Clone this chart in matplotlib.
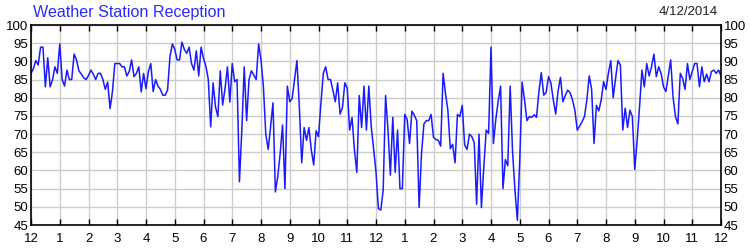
import matplotlib.pyplot as plt
import numpy as np

plt.rcParams['font.family'] = ['Liberation Sans', 'DejaVu Sans']

title = 'Weather Station Reception'
date_label = '4/12/2014'

# signal strength, one reading every 5 minutes (12 per hour), midnight to midnight
am = [
	86.7, 88.0, 90.2, 89.0, 93.9, 93.9, 83.0, 91.0, 83.0, 85.0, 88.5, 86.7,  # 12
	94.8, 85.0, 83.2, 87.6, 85.0, 85.0, 92.0, 90.4, 87.4, 86.5, 85.5, 85.0,  # 1
	86.1, 87.6, 86.5, 85.0, 86.7, 86.7, 85.0, 82.3, 84.3, 77.0, 81.7, 89.4,  # 2
	89.4, 89.4, 88.5, 88.5, 86.0, 87.2, 90.4, 85.8, 86.7, 88.5, 81.6, 86.7,  # 3
	82.5, 87.2, 89.4, 81.7, 85.0, 83.2, 82.3, 80.7, 80.7, 82.1, 91.3, 94.8,  # 4
	93.3, 90.4, 90.4, 95.3, 93.3, 92.2, 93.9, 89.4, 87.6, 92.9, 86.0, 93.9,  # 5
	90.8, 88.7, 85.0, 72.0, 84.1, 77.5, 74.8, 87.4, 78.0, 82.6, 88.5, 78.8,  # 6
	89.4, 84.4, 85.0, 56.9, 71.1, 88.5, 73.7, 85.0, 87.4, 86.2, 85.0, 94.8,  # 7
	90.4, 83.0, 70.0, 65.8, 72.0, 78.6, 54.1, 58.3, 64.7, 72.5, 55.0, 83.2,  # 8
	78.9, 79.8, 85.0, 90.2, 77.5, 62.1, 71.8, 68.3, 71.8, 65.6, 61.5, 70.9,  # 9
	69.3, 78.4, 86.7, 88.5, 85.0, 85.0, 82.1, 78.9, 84.1, 75.5, 77.3, 84.1,  # 10
	82.6, 71.1, 74.6, 65.6, 59.5, 80.6, 71.8, 83.2, 71.1, 83.2, 72.2, 66.0,  # 11
]
pm = [
	59.6, 49.5, 49.1, 54.6, 80.6, 71.1, 58.7, 74.6, 59.5, 71.1, 55.0, 55.0,  # 12
	75.4, 74.0, 67.4, 76.3, 75.2, 73.7, 49.8, 64.7, 72.8, 73.7, 73.7, 75.4,  # 1
	69.1, 68.5, 68.3, 66.7, 86.7, 81.2, 76.6, 66.0, 67.2, 62.1, 75.4, 74.8,  # 2
	77.9, 67.0, 65.8, 70.0, 69.3, 67.6, 50.7, 70.0, 49.8, 61.0, 71.1, 70.2,  # 3
	93.9, 67.4, 74.0, 79.0, 83.2, 55.0, 63.0, 61.3, 83.2, 65.1, 54.6, 46.3,  # 4
	62.8, 84.3, 79.4, 73.7, 74.8, 74.6, 75.3, 74.6, 81.7, 86.9, 80.7, 81.4,  # 5
	85.8, 84.1, 79.4, 75.5, 81.9, 85.6, 78.9, 80.6, 82.1, 81.4, 79.4, 76.6,  # 6
	71.1, 72.2, 73.4, 74.8, 79.4, 86.0, 82.3, 67.4, 77.9, 76.4, 79.4, 84.4,  # 7
	82.3, 86.7, 90.2, 80.0, 85.3, 90.2, 89.0, 71.1, 77.1, 71.8, 76.6, 74.8,  # 8
	60.3, 68.3, 77.5, 87.6, 83.0, 89.4, 86.0, 88.5, 92.0, 85.8, 88.5, 86.7,  # 9
	83.0, 81.7, 86.0, 90.4, 80.1, 74.8, 72.8, 86.7, 85.3, 82.3, 89.4, 85.0,  # 10
	87.2, 89.4, 89.4, 83.0, 88.5, 84.4, 86.5, 84.4, 87.2, 87.6, 86.7, 87.6,  # 11
	86.0,
]
hour_labels = ['12'] + [str(h) for h in range(1, 12)] + ['12'] + [str(h) for h in range(1, 12)] + ['12']

signal = np.array(am + pm)
t_hours = np.arange(len(signal)) * 5 / 60.0

fig = plt.figure(figsize=(7.5, 2.5), dpi=100)
ax = fig.add_axes([31 / 750, 0.1, 690 / 750, 0.8])

ax.plot(t_hours, signal, color='#1a1aff', lw=1.1)

ax.set_xlim(0, 24)
ax.set_ylim(45, 100)
ax.set_xticks(range(25))
ax.set_xticklabels(hour_labels)
ax.set_yticks(range(45, 101, 5))
ax.grid(True, color='#cccccc', lw=1)
ax.set_axisbelow(True)

ax.tick_params(axis='x', direction='in', top=True, bottom=True, length=4,
			   width=1, labelsize=9.5, pad=6, colors='black')
ax.tick_params(axis='y', length=0, labelsize=9.5, pad=2,
			   left=True, right=True, labelleft=True, labelright=True)
for s in ax.spines.values():
	s.set_linewidth(1.2)
	s.set_color('black')

fig.text(33 / 750, 1 - 12 / 250, title, color='#2a2aff', fontsize=11.6, va='center', ha='left')
fig.text(718 / 750, 1 - 12 / 250, date_label, color='#222222', fontsize=9.5, va='center', ha='right')

fig.savefig('out.png', dpi=100)
